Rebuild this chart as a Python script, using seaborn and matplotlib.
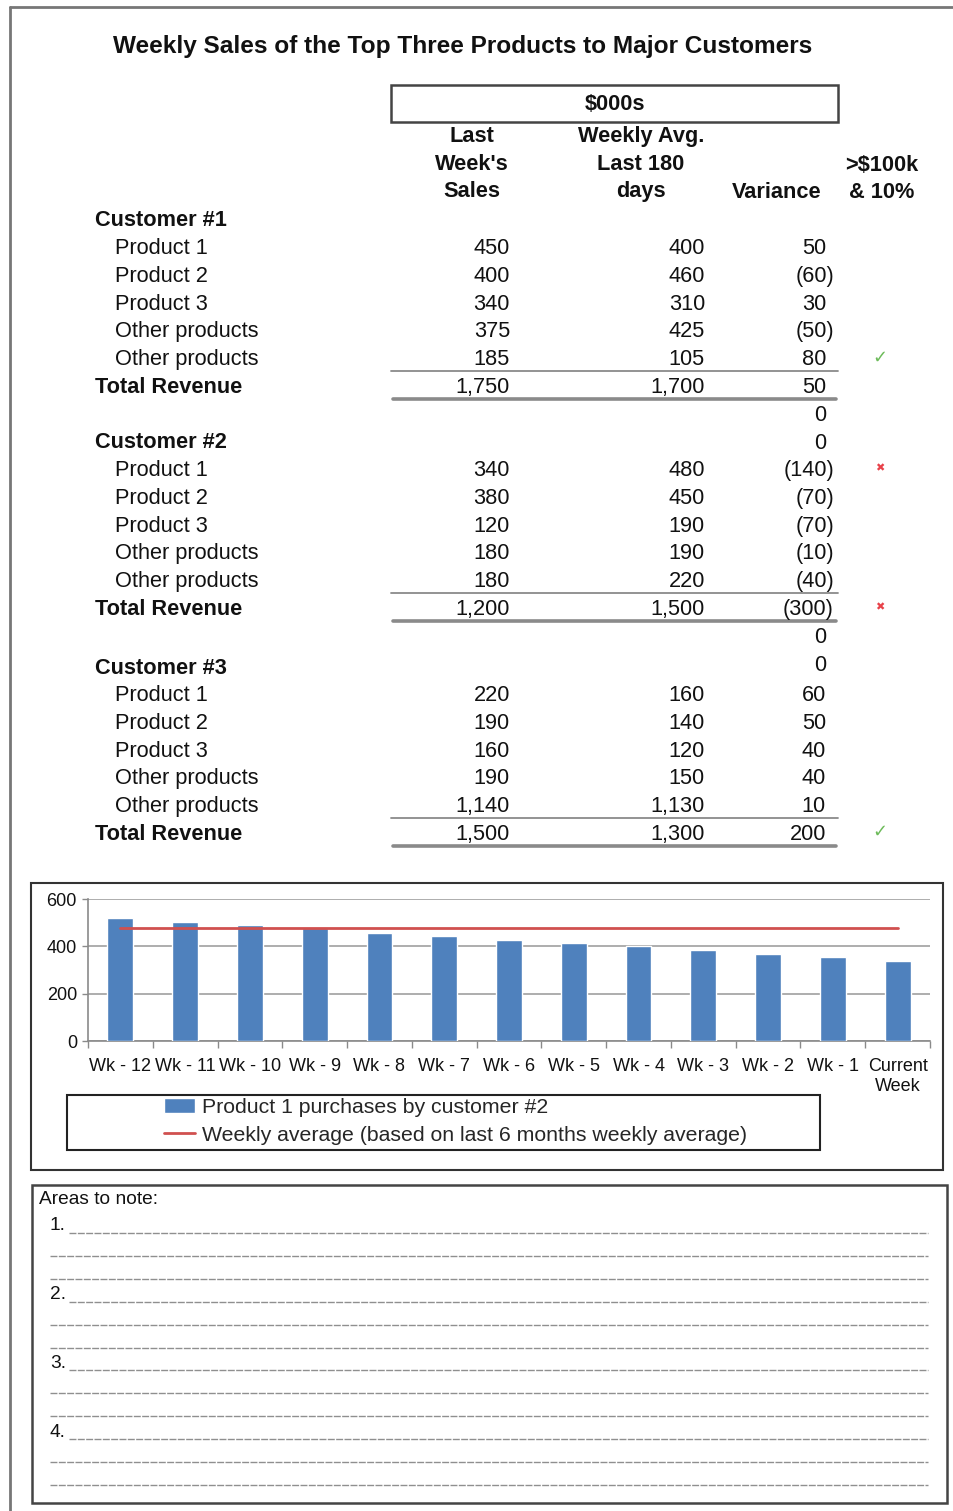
import matplotlib
matplotlib.use("Agg")
import matplotlib.pyplot as plt
import seaborn as sns
import numpy as np
from matplotlib.patches import Rectangle

sns.set_theme(style="white")
plt.rcParams['font.family'] = ['Liberation Sans', 'DejaVu Sans']

# ---------------- data ----------------
title = "Weekly Sales of the Top Three Products to Major Customers"
unit_label = "$000s"
col_headers = ["Last\nWeek's\nSales", "Weekly Avg.\nLast 180\ndays", "Variance", ">$100k\n& 10%"]
customers = ["Customer #1", "Customer #2", "Customer #3"]
row_labels = ["Product 1", "Product 2", "Product 3", "Other products", "Other products"]
total_label = "Total Revenue"

c1_last = [450, 400, 340, 375, 185]
c1_avg = [400, 460, 310, 425, 105]
c1_var = [50, -60, 30, -50, 80]
c1_tot = [1750, 1700, 50]
c1_flags = ["", "", "", "", "ok", ""]

c2_last = [340, 380, 120, 180, 180]
c2_avg = [480, 450, 190, 190, 220]
c2_var = [-140, -70, -70, -10, -40]
c2_tot = [1200, 1500, -300]
c2_flags = ["bad", "", "", "", "", "bad"]

c3_last = [220, 190, 160, 190, 1140]
c3_avg = [160, 140, 120, 150, 1130]
c3_var = [60, 50, 40, 40, 10]
c3_tot = [1500, 1300, 200]
c3_flags = ["", "", "", "", "", "ok"]

weeks = ["Wk - 12", "Wk - 11", "Wk - 10", "Wk - 9", "Wk - 8", "Wk - 7", "Wk - 6",
         "Wk - 5", "Wk - 4", "Wk - 3", "Wk - 2", "Wk - 1", "Current\nWeek"]
p1_cust2 = [519, 502, 491, 477, 457, 442, 428, 414, 400, 384, 369, 353, 339]
weekly_avg = 478
bar_label = "Product 1 purchases by customer #2"
line_label = "Weekly average (based on last 6 months weekly average)"
notes_title = "Areas to note:"
note_numbers = ["1.", "2.", "3.", "4."]

# ---------------- figure ----------------
W, H = 954, 1511
fig = plt.figure(figsize=(W / 100, H / 100), dpi=100)
pa = fig.add_axes([0, 0, 1, 1])
pa.set_xlim(0, W)
pa.set_ylim(H, 0)
pa.axis('off')

TXT = '#111111'
GRAY = '#8a8a8a'
FS = 15.7
DY = 2

def fmt(v):
    if v < 0:
        return "({:,})".format(-v)
    return "{:,}".format(v)

# page border
pa.plot([10, W], [7, 7], color='#777777', lw=2)
pa.plot([10, 10], [7, H], color='#777777', lw=2)

pa.text(463, 46, title, ha='center', va='center', fontsize=17.6, fontweight='bold', color=TXT)

# $000s box
pa.add_patch(Rectangle((391, 85), 447, 37, fill=False, edgecolor='#444444', lw=1.8))
pa.text(615, 104, unit_label, ha='center', va='center', fontsize=FS, fontweight='bold',
        color=TXT, parse_math=False)

pa.text(472, 164, col_headers[0], ha='center', va='center', fontsize=FS, fontweight='bold',
        color=TXT, linespacing=1.38)
pa.text(641, 164, col_headers[1], ha='center', va='center', fontsize=FS, fontweight='bold',
        color=TXT, linespacing=1.38)
pa.text(777, 193, col_headers[2], ha='center', va='center', fontsize=FS, fontweight='bold', color=TXT)
pa.text(882, 179, col_headers[3], ha='center', va='center', fontsize=FS, fontweight='bold',
        color=TXT, linespacing=1.38, parse_math=False)

blocks = [
    (customers[0], c1_last, c1_avg, c1_var, c1_tot, c1_flags, 219, True),
    (customers[1], c2_last, c2_avg, c2_var, c2_tot, c2_flags, 441, True),
    (customers[2], c3_last, c3_avg, c3_var, c3_tot, c3_flags, 666, False),
]
STEP = 27.7
X1, X2, X3, X3P = 510, 705, 826, 834

def draw_var(v, y):
    pa.text(X3P if v < 0 else X3, y + DY, fmt(v), ha='right', va='center', fontsize=FS, color=TXT)

def draw_flag(f, y):
    if f == "ok":
        pa.text(880, y, "\u2713", ha='center', va='center', fontsize=13, color='#6dbb5a',
                family=['DejaVu Sans'])
    elif f == "bad":
        pa.text(880, y, "\u2716", ha='center', va='center', fontsize=8, color='#e8424a',
                family=['DejaVu Sans'])

for name, last, avg, var, tot, flags, y0, zeros in blocks:
    pa.text(95, y0 + DY, name, ha='left', va='center', fontsize=FS, fontweight='bold', color=TXT)
    for k in range(5):
        y = y0 + STEP * (k + 1)
        pa.text(115, y + DY, row_labels[k], ha='left', va='center', fontsize=FS, color=TXT)
        pa.text(X1, y + DY, fmt(last[k]), ha='right', va='center', fontsize=FS, color=TXT)
        pa.text(X2, y + DY, fmt(avg[k]), ha='right', va='center', fontsize=FS, color=TXT)
        draw_var(var[k], y)
        draw_flag(flags[k], y)
    yt = y0 + STEP * 6
    pa.text(95, yt + DY, total_label, ha='left', va='center', fontsize=FS, fontweight='bold', color=TXT)
    pa.text(X1, yt + DY, fmt(tot[0]), ha='right', va='center', fontsize=FS, color=TXT)
    pa.text(X2, yt + DY, fmt(tot[1]), ha='right', va='center', fontsize=FS, color=TXT)
    draw_var(tot[2], yt)
    draw_flag(flags[5], yt)
    pa.plot([391, 838], [yt - 14, yt - 14], color=GRAY, lw=1.3)
    pa.plot([393, 836], [yt + 13.5, yt + 13.5], color=GRAY, lw=2.6)
    if zeros:
        for j in (1, 2):
            pa.text(826, yt + 28 * j + DY, "0", ha='right', va='center', fontsize=FS, color=TXT)

# ---------------- chart ----------------
pa.add_patch(Rectangle((31, 883), 912, 287, fill=False, edgecolor='#333333', lw=1.5))
pa.add_patch(Rectangle((67, 1095), 753, 55, fill=False, edgecolor='#222222', lw=1.5))

cax = fig.add_axes([88 / W, 1 - 1041 / H, (930 - 88) / W, (1041 - 899) / H])
cax.set_facecolor('none')
sns.barplot(x=weeks, y=p1_cust2, color='#4f81bd', saturation=1, width=0.4, ax=cax,
            label=bar_label, zorder=3)
sns.lineplot(x=np.arange(len(weeks)), y=[weekly_avg] * len(weeks), color='#d0504f', lw=2,
             ax=cax, label=line_label, zorder=4)
cax.set_xlim(-0.5, len(weeks) - 0.5)
cax.set_ylim(0, 600)
cax.set_yticks([0, 200, 400, 600])
cax.yaxis.grid(True, color='#a0a0a0', lw=1.2)
cax.set_axisbelow(True)
for s in ['top', 'right']:
    cax.spines[s].set_visible(False)
for s in ['left', 'bottom']:
    cax.spines[s].set_color('#8a8a8a')
    cax.spines[s].set_linewidth(1.2)
cax.set_xlabel('')
cax.set_ylabel('')
cax.set_xticks(np.arange(len(weeks)))
cax.set_xticklabels(weeks, fontsize=13, color=TXT, linespacing=1.25)
cax.set_xticks(np.arange(len(weeks) + 1) - 0.5, minor=True)
cax.tick_params(axis='x', which='major', length=0, pad=12)
cax.tick_params(axis='x', which='minor', length=5, width=1, color='#8a8a8a', direction='out', bottom=True)
cax.tick_params(axis='y', length=4, width=1, color='#8a8a8a', direction='out', left=True, pad=4,
                labelsize=13, labelcolor=TXT)

handles, labels = cax.get_legend_handles_labels()
order = [labels.index(bar_label), labels.index(line_label)]
cax.legend([handles[i] for i in order], [labels[i] for i in order], loc='upper left',
           bbox_to_anchor=(162 / W, 1 - 1096 / H),
           bbox_transform=fig.transFigure, frameon=False, fontsize=15.3,
           handlelength=1.45, handletextpad=0.35, labelspacing=0.4, borderaxespad=0,
           borderpad=0.1)

# ---------------- notes ----------------
pa.add_patch(Rectangle((32, 1185), 915, 318, fill=False, edgecolor='#444444', lw=1.8))
pa.text(39, 1199, notes_title, ha='left', va='center', fontsize=13.8, color=TXT)
for i in range(12):
    y = 1233 + 22.9 * i
    if i % 3 == 0:
        pa.text(50, y - 7, note_numbers[i // 3], ha='left', va='center', fontsize=13.8, color=TXT)
        x0 = 69
    else:
        x0 = 50
    pa.plot([x0, 928], [y, y], color='#8f8f8f', lw=1, ls=(0, (5, 1)))

fig.savefig("out.png", dpi=100)
